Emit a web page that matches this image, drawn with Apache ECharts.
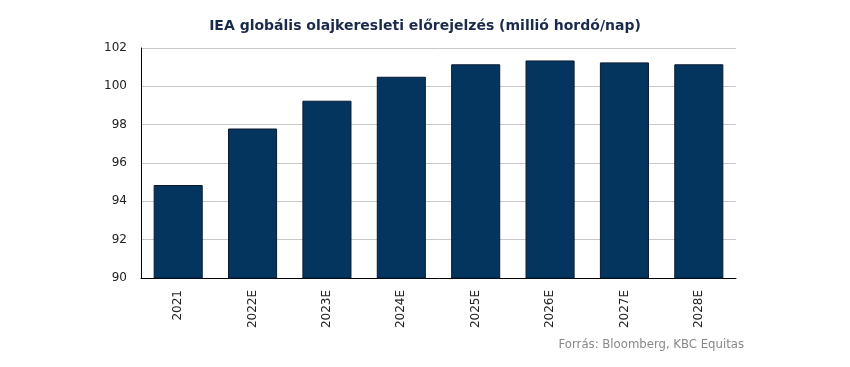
<!DOCTYPE html>
<html><head><meta charset="utf-8">
<script src="https://cdn.jsdelivr.net/npm/echarts@6/dist/echarts.min.js"></script>
<style>html,body{margin:0;padding:0;background:#fff}#c{width:850px;height:367px}</style>
</head><body><div id="c"></div>
<script>
var categories = ['2021','2022E','2023E','2024E','2025E','2026E','2027E','2028E'];
var demand = [94.85, 97.8, 99.25, 100.5, 101.15, 101.35, 101.25, 101.15];
var titleText = 'IEA globális olajkeresleti előrejelzés (millió hordó/nap)';
var sourceText = 'Forrás: Bloomberg, KBC Equitas';

var chart = echarts.init(document.getElementById('c'), null, {renderer:'canvas'});
chart.setOption({
  animation:false,
  title:[{text:titleText,left:'center',top:14,textStyle:{fontFamily:'DejaVu Sans',fontSize:14,fontWeight:'bold',color:'#1a2a4a'}},
         {text:sourceText,right:101,top:333,textStyle:{fontFamily:'DejaVu Sans Condensed',fontSize:13,fontWeight:'normal',color:'#888'}}],
  grid:{left:141,right:114,top:48,bottom:89},
  xAxis:{type:'category',data:categories,
    axisLine:{lineStyle:{color:'#000',width:1}},axisTick:{show:false},
    axisLabel:{rotate:90,margin:12,fontFamily:'DejaVu Sans',fontSize:12,color:'#222'}},
  yAxis:{type:'value',min:90,max:102,interval:2,
    axisLine:{show:true,lineStyle:{color:'#000',width:1}},axisTick:{show:false},
    splitLine:{lineStyle:{color:'#c8c8c8'}},
    axisLabel:{margin:14,fontFamily:'DejaVu Sans',fontSize:12,color:'#222'}},
  series:[{type:'bar',data:demand,barWidth:'66%',
    itemStyle:{color:'#03355f',borderColor:'#0a1a33',borderWidth:1}}]
});
</script></body></html>
